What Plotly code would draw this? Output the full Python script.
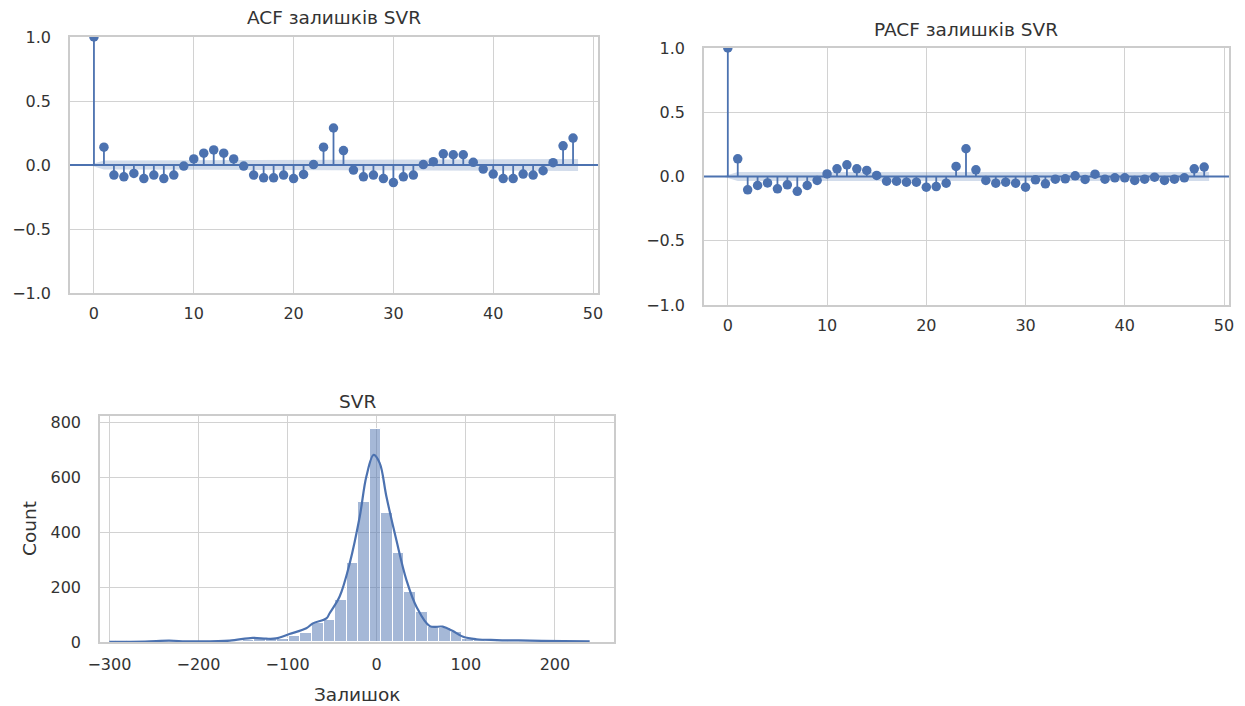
import numpy as np
import plotly.graph_objects as go

W, H = 1245, 706

# ---------------- data ----------------
acf_lags = list(range(49))
acf_values = [1.0,
              0.139, -0.079, -0.092, -0.066, -0.106, -0.079, -0.106, -0.079, -0.008, 0.047,
              0.092, 0.118, 0.092, 0.047, -0.008, -0.079, -0.100, -0.100, -0.079, -0.106,
              -0.074, 0.003, 0.139, 0.289, 0.113, -0.040, -0.092, -0.079, -0.106, -0.137,
              -0.092, -0.079, 0.003, 0.026, 0.087, 0.080, 0.080, 0.021, -0.032, -0.071,
              -0.106, -0.106, -0.071, -0.079, -0.045, 0.018, 0.150, 0.210]

pacf_lags = list(range(49))
pacf_values = [1.0,
               0.138, -0.104, -0.070, -0.050, -0.096, -0.065, -0.115, -0.070, -0.031, 0.020,
               0.060, 0.091, 0.060, 0.047, 0.008, -0.036, -0.036, -0.044, -0.044, -0.083,
               -0.078, -0.052, 0.078, 0.216, 0.052, -0.031, -0.052, -0.044, -0.052, -0.083,
               -0.026, -0.057, -0.021, -0.018, 0.005, -0.023, 0.018, -0.021, -0.010, -0.010,
               -0.031, -0.021, -0.005, -0.031, -0.021, -0.010, 0.060, 0.073]

hist_bin_start = -293.1
hist_bin_width = 12.97
hist_counts = [2, 0, 1, 1, 1, 3, 1, 1, 2, 3, 5, 8, 12, 10, 10,
               22, 32, 68, 82, 155, 288, 510, 778,
               472, 325, 182, 110, 55, 52, 38, 12,
               6, 4, 3, 3, 2, 1, 1, 1, 1, 2]

kde_x = [-300, -260, -233, -215, -199, -165, -139, -124, -113, -98, -79, -71.6, -56.5, -52.8,
         -41.6, -30.3, -19, -11.6, -3.4, 3.4, 10.9, 22, 33.4, 44.6, 59.6, 74, 85, 97,
         112, 134.5, 172, 210, 239]
kde_y = [0.5, 1.5, 5, 2.5, 2, 5, 15, 12, 13, 29, 50, 68, 86, 105,
         166, 287, 458, 604, 683, 653, 531, 373, 226, 129, 58, 56, 41, 19,
         10, 7, 5, 3, 2]

acf_title = "ACF залишків SVR"
pacf_title = "PACF залишків SVR"
hist_title = "SVR"
hist_xlabel = "Залишок"
hist_ylabel = "Count"

# ---------------- style ----------------
BLUE = "#4C72B0"
BAND = "rgba(76,114,176,0.25)"
GRID = "#d2d2d2"
FRAME = "#cccccc"
TXT = "#333333"
FONT = "DejaVu Sans"
TICK_SIZE = 16
TITLE_SIZE = 18.5


def dom_x(a, b):
    return [a / W, b / W]


def dom_y(top, bottom):
    return [1 - bottom / H, 1 - top / H]


N_OBS = sum(hist_counts)

fig = go.Figure()


def corr_traces(lags, vals, xa, ya, bartlett):
    lags = np.asarray(lags, dtype=float)
    vals = np.asarray(vals, dtype=float)
    sx, sy = [], []
    for l, v in zip(lags, vals):
        sx += [l, l, None]
        sy += [0, v, None]
    fig.add_trace(go.Scatter(x=sx, y=sy, mode="lines", line=dict(color=BLUE, width=1.8),
                             xaxis=xa, yaxis=ya, showlegend=False, hoverinfo="skip"))
    fig.add_trace(go.Scatter(x=lags, y=vals, mode="markers",
                             marker=dict(color=BLUE, size=9.5),
                             xaxis=xa, yaxis=ya, showlegend=False))
    if bartlett:
        var = np.zeros(len(vals))
        var[1] = 1.0 / N_OBS
        for k in range(2, len(vals)):
            var[k] = (1 + 2 * np.sum(vals[1:k] ** 2)) / N_OBS
    else:
        var = np.full(len(vals), 1.0 / N_OBS)
        var[0] = 0
    half = 1.96 * np.sqrt(var)
    bx = lags.copy()
    bx[0] -= 0.5
    bx[-1] += 0.5
    px = list(bx) + list(bx[::-1])
    py = list(half) + list(-half[::-1])
    fig.add_trace(go.Scatter(x=px, y=py, fill="toself", fillcolor=BAND, mode="lines",
                             line=dict(width=0), xaxis=xa, yaxis=ya, showlegend=False,
                             hoverinfo="skip"))


corr_traces(acf_lags, acf_values, "x", "y", True)
corr_traces(pacf_lags, pacf_values, "x2", "y2", False)

centers = [hist_bin_start + hist_bin_width * (i + 0.5) for i in range(len(hist_counts))]
fig.add_trace(go.Bar(x=centers, y=hist_counts, width=hist_bin_width,
                     marker=dict(color="rgba(76,114,176,0.5)", line=dict(color="white", width=1)),
                     xaxis="x3", yaxis="y3", showlegend=False))
fig.add_trace(go.Scatter(x=kde_x, y=kde_y, mode="lines", line=dict(color=BLUE, width=2.2, shape="spline"),
                         xaxis="x3", yaxis="y3", showlegend=False))

axis_common = dict(showgrid=True, gridcolor=GRID, gridwidth=1.2, zeroline=False,
                   showline=True, linecolor=FRAME, linewidth=1.5, mirror=True,
                   automargin=False,
                   ticks="", tickfont=dict(family=FONT, size=TICK_SIZE, color=TXT))

fig.update_layout(
    template="none",
    width=W, height=H, autosize=False,
    margin=dict(l=0, r=0, t=0, b=0, pad=0),
    paper_bgcolor="white", plot_bgcolor="white",
    bargap=0,
    xaxis=dict(domain=dom_x(70, 598), range=[-2.4, 50.5], tickvals=[0, 10, 20, 30, 40, 50],
               anchor="y", ticklabelstandoff=5, **axis_common),
    yaxis=dict(domain=dom_y(37, 293), range=[-1, 1], tickvals=[-1, -0.5, 0, 0.5, 1],
               tickformat=".1f", anchor="x", ticklabelstandoff=14, **axis_common),
    xaxis2=dict(domain=dom_x(704, 1229), range=[-2.4, 50.5], tickvals=[0, 10, 20, 30, 40, 50],
                anchor="y2", ticklabelstandoff=5, **axis_common),
    yaxis2=dict(domain=dom_y(48, 305), range=[-1, 1], tickvals=[-1, -0.5, 0, 0.5, 1],
                tickformat=".1f", anchor="x2", ticklabelstandoff=14, **axis_common),
    xaxis3=dict(domain=dom_x(100, 614), range=[-310.5, 266.3],
                tickvals=[-300, -200, -100, 0, 100, 200], anchor="y3", ticklabelstandoff=7,
                **axis_common),
    yaxis3=dict(domain=dom_y(416, 642), range=[0, 825], tickvals=[0, 200, 400, 600, 800],
                anchor="x3", ticklabelstandoff=14, **axis_common),
)

for line_ax, ya in [("x", "y"), ("x2", "y2")]:
    fig.add_shape(type="line", xref=f"{line_ax} domain", yref=ya, x0=0, x1=1, y0=0, y1=0,
                  line=dict(color=BLUE, width=2), layer="above")

for text, cx, cy, ang in [(acf_title, 334, 17, 0), (pacf_title, 966, 30, 0), (hist_title, 357, 401, 0),
                          (hist_xlabel, 357, 694, 0), (hist_ylabel, 29, 529, -90)]:
    fig.add_annotation(text=text, x=cx / W, y=1 - cy / H, xref="paper", yref="paper",
                       showarrow=False, xanchor="center", yanchor="middle", textangle=ang,
                       font=dict(family=FONT, size=TITLE_SIZE, color=TXT))

fig.write_html(
    "out.html",
    config={"displayModeBar": False},
    post_script="document.body.style.margin='0';document.body.style.overflow='hidden';",
)
